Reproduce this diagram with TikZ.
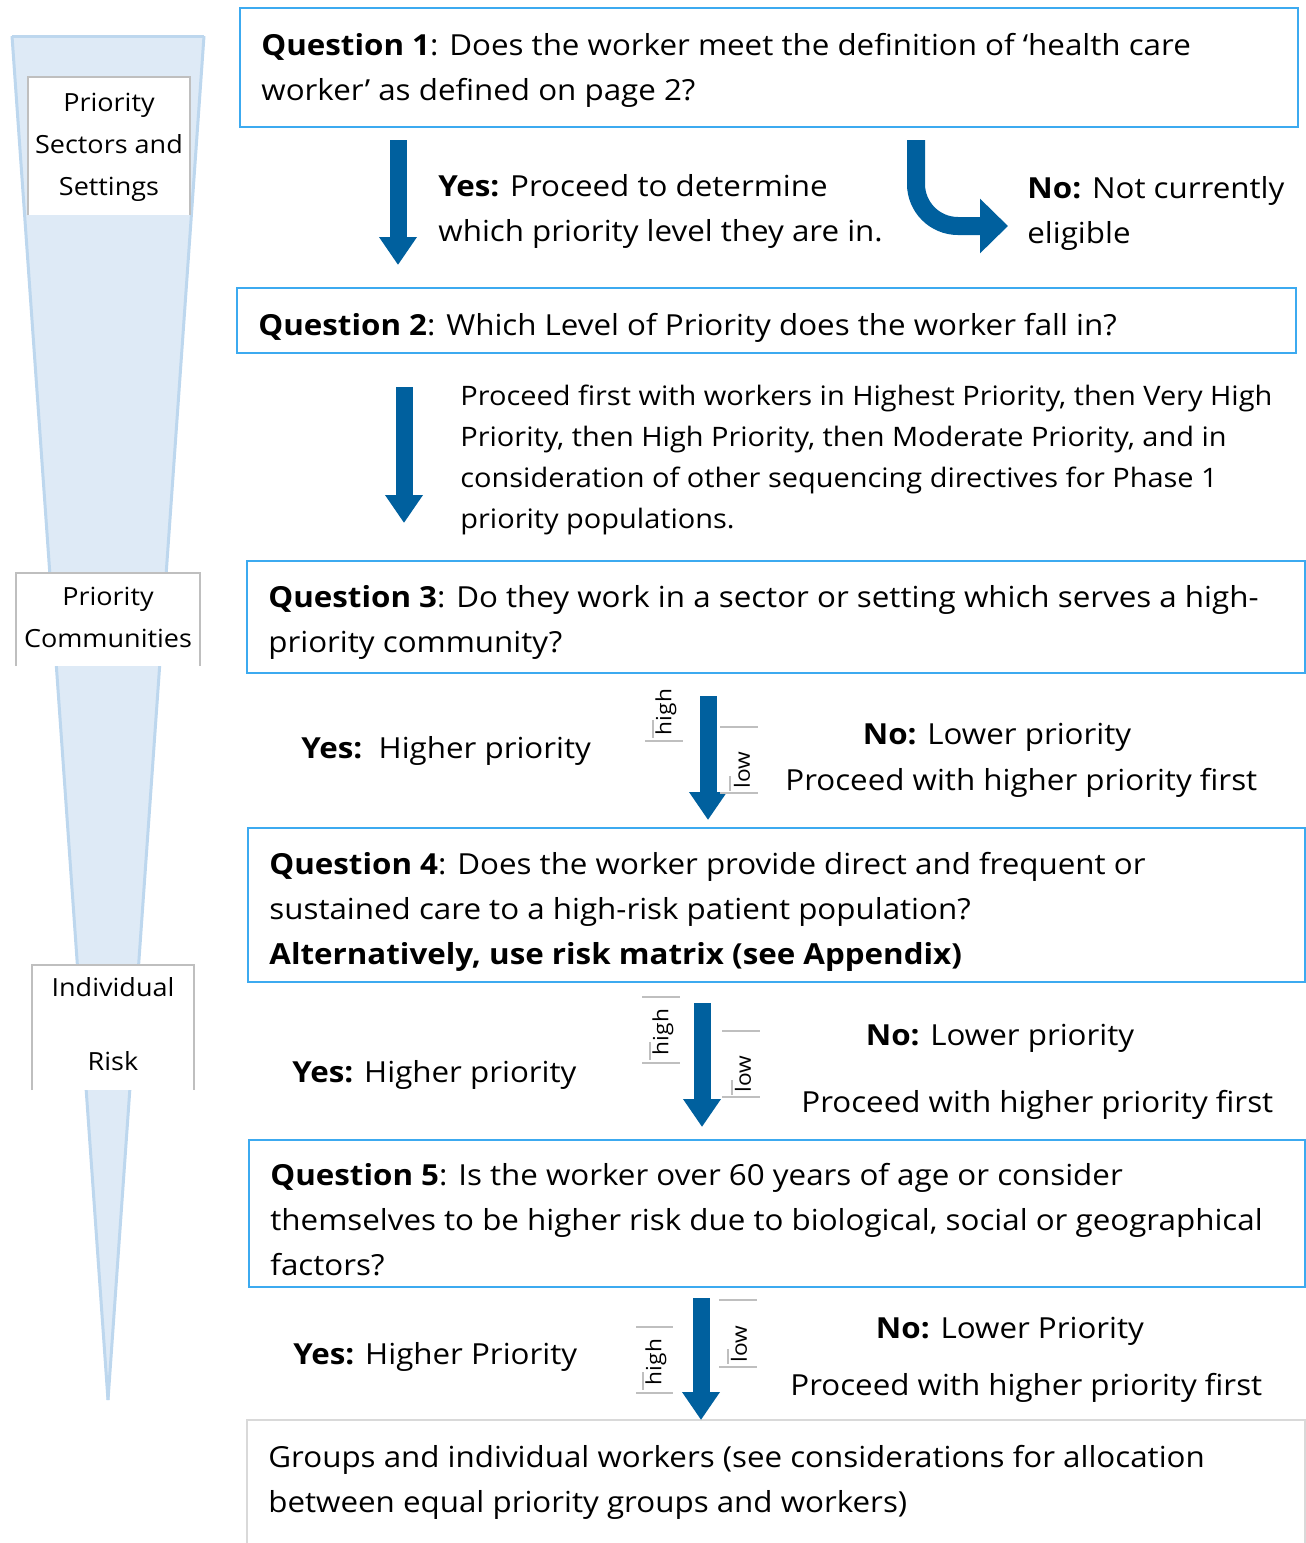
\documentclass[tikz,border=0pt]{standalone}
\usepackage{fontspec}
\setmainfont[FakeStretch=1.08]{Open Sans}
\usetikzlibrary{arrows.meta}
\definecolor{arrowblue}{RGB}{0,96,158}
\definecolor{boxblue}{RGB}{60,170,240}
\definecolor{funfill}{RGB}{222,234,246}
\definecolor{funedge}{RGB}{189,215,238}
\definecolor{lblgray}{RGB}{191,191,191}
\definecolor{endgray}{RGB}{217,217,217}
\tikzset{
  qbox/.style={draw=boxblue, line width=1pt},
  qtext/.style={anchor=base west, inner sep=0pt, align=left, font=\fontsize{14.5pt}{22.5pt}\selectfont},
  ptext/.style={anchor=base west, inner sep=0pt, align=left, font=\fontsize{13.4pt}{20.5pt}\selectfont},
  ctext/.style={anchor=base, inner sep=0pt, align=center, font=\fontsize{14.5pt}{22.5pt}\selectfont},
  lbl/.style={anchor=base, inner sep=0pt, align=center, font=\fontsize{12.5pt}{21pt}\selectfont},
  fat/.style={draw=arrowblue, line width=8.5pt, -{Triangle[width=18pt,length=14pt]}},
  hl/.style={inner sep=0pt, rotate=90, font=\fontsize{10.5pt}{13pt}\selectfont},
  tick/.style={draw=lblgray, line width=0.6pt},
  lblbox/.style={fill=white, draw=none},
}
\begin{document}
\begin{tikzpicture}[x=0.5pt,y=-0.5pt]
\useasboundingbox (0,0) rectangle (1306,1543);
% funnel
\fill[funfill] (12,36) -- (204,36) -- (108,1400) -- cycle;
\draw[funedge, line width=1.5pt] (12,36) -- (204,36);
\draw[funedge, line width=1.5pt] (12,36) -- (108,1400);
\draw[funedge, line width=1.5pt] (204,36) -- (108,1400);
% left label boxes
\fill[lblbox] (28,77) rectangle (190,215);
\draw[lblgray, line width=0.6pt] (28,215) -- (28,77) -- (190,77) -- (190,215);
\node[lbl] (l1) at (109,195) {Priority\\Sectors and\\Settings};
\fill[lblbox] (16,573) rectangle (200,666);
\draw[lblgray, line width=0.6pt] (16,666) -- (16,573) -- (200,573) -- (200,666);
\node[lbl] (l2) at (108,647) {Priority\\Communities};
\fill[lblbox] (32,965) rectangle (194,1090);
\draw[lblgray, line width=0.6pt] (32,1090) -- (32,965) -- (194,965) -- (194,1090);
\node[lbl] (l3) at (113,1070) {Individual\\[16pt]Risk};

% question boxes
\draw[qbox] (240,8) rectangle (1298,127);
\node[qtext] (q1) at (261,100) {\textbf{Question 1}: Does the worker meet the definition of ‘health care\\worker’ as defined on page 2?};
\draw[qbox] (237,288) rectangle (1296,353);
\node[qtext] (q2) at (258,335) {\textbf{Question 2}: Which Level of Priority does the worker fall in?};
\draw[qbox] (247,561) rectangle (1305,673);
\node[qtext] (q3) at (268,652) {\textbf{Question 3}: Do they work in a sector or setting which serves a high-\\priority community?};
\draw[qbox] (248,828) rectangle (1305,982);
\node[qtext] (q4) at (269,964) {\textbf{Question 4}: Does the worker provide direct and frequent or\\sustained care to a high-risk patient population?\\\textbf{Alternatively, use risk matrix (see Appendix)}};
\draw[qbox] (249,1140) rectangle (1305,1287);
\node[qtext] (q5) at (270,1275) {\textbf{Question 5}: Is the worker over 60 years of age or consider\\themselves to be higher risk due to biological, social or geographical\\factors?};
\draw[endgray, line width=0.8pt] (247,1550) -- (247,1420) -- (1305,1420) -- (1305,1550);
\node[qtext] (q6) at (268,1512) {Groups and individual workers (see considerations for allocation\\between equal priority groups and workers)};

% answers
\node[qtext] (y1) at (438,241) {\textbf{Yes:} Proceed to determine\\which priority level they are in.};
\node[qtext] (n1) at (1027,243) {\textbf{No:} Not currently\\eligible};
\node[ptext] (p2) at (460,528) {Proceed first with workers in Highest Priority, then Very High\\Priority, then High Priority, then Moderate Priority, and in\\consideration of other sequencing directives for Phase 1\\priority populations.};
\node[qtext] (y3) at (301,758) {\textbf{Yes:}\ \ Higher priority};
\node[ctext] (n3) at (997,744) {\textbf{No:} Lower priority};
\node[qtext] (n3b) at (785,790) {Proceed with higher priority first};
\node[qtext] (y4) at (292,1082) {\textbf{Yes:} Higher priority};
\node[ctext] (n4) at (1000,1045) {\textbf{No:} Lower priority};
\node[qtext] (n4b) at (801,1112) {Proceed with higher priority first};
\node[qtext] (y5) at (293,1364) {\textbf{Yes:} Higher Priority};
\node[ctext] (n5) at (1010,1338) {\textbf{No:} Lower Priority};
\node[qtext] (n5b) at (790,1395) {Proceed with higher priority first};

% arrows
\coordinate (a1s) at (398,140); \coordinate (a1e) at (398,265);
\draw[fat] (a1s) -- (a1e);
\coordinate (a2s) at (404,387); \coordinate (a2e) at (404,523);
\draw[fat] (a2s) -- (a2e);
\coordinate (a3s) at (708,696); \coordinate (a3e) at (708,820);
\draw[fat] (a3s) -- (a3e);
\coordinate (a4s) at (702,1003); \coordinate (a4e) at (702,1127);
\draw[fat] (a4s) -- (a4e);
\coordinate (a5s) at (701,1298); \coordinate (a5e) at (701,1420);
\draw[fat] (a5s) -- (a5e);
\coordinate (cs) at (916,140); \coordinate (ce) at (1008,226);
\draw[draw=arrowblue, line width=9pt, rounded corners=21pt, -{Triangle[width=26.5pt,length=14pt]}] (cs) |- (ce);

% high / low markers
\node[hl] (h3) at (666,712) {high};
\draw[tick] (645,741) -- (683,741);
\draw[tick] (653,720) -- (653,738);
\node[hl] (w3) at (742,770) {low};
\draw[tick] (720,727) -- (758,727);
\draw[tick] (720,793) -- (758,793);
\draw[tick] (730,776) -- (730,791);

\node[hl] (h4) at (663,1032) {high};
\draw[tick] (642,997) -- (680,997);
\draw[tick] (642,1063) -- (680,1063);
\draw[tick] (650,1042) -- (650,1060);
\node[hl] (w4) at (743,1074) {low};
\draw[tick] (722,1031) -- (760,1031);
\draw[tick] (722,1097) -- (760,1097);
\draw[tick] (732,1080) -- (732,1095);

\node[hl] (h5) at (656,1362) {high};
\draw[tick] (636,1327) -- (673,1327);
\draw[tick] (636,1393) -- (673,1393);
\draw[tick] (643,1372) -- (643,1390);
\node[hl] (w5) at (739,1344) {low};
\draw[tick] (719,1300) -- (757,1300);
\draw[tick] (719,1367) -- (757,1367);
\draw[tick] (728,1349) -- (728,1364);
\end{tikzpicture}
\end{document}
